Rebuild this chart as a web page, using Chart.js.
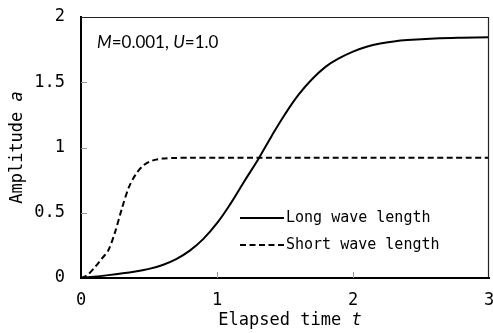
<!DOCTYPE html>
<html>
<head>
<meta charset="utf-8">
<script src="https://cdn.jsdelivr.net/npm/chart.js@4.4.0/dist/chart.umd.min.js"></script>
<style>
  body { margin: 0; background: #fff; }
  #wrap { width: 493px; height: 333px; }
</style>
</head>
<body>
<div id="wrap"><canvas id="amp" width="493" height="333"></canvas></div>
<script>
// growth of amplitude a over elapsed time t
const timeLong = [0, 0.2, 0.4, 0.5, 0.6, 0.7, 0.8, 0.9, 1.0, 1.1, 1.2, 1.3, 1.4, 1.5, 1.6, 1.7, 1.8, 1.9, 2.0, 2.1, 2.2, 2.3, 2.4, 2.6, 2.8, 3.0];
const ampLong = [0, 0.022, 0.05, 0.07, 0.1, 0.145, 0.21, 0.3, 0.42, 0.57, 0.74, 0.905, 1.085, 1.255, 1.405, 1.525, 1.62, 1.685, 1.735, 1.772, 1.797, 1.813, 1.823, 1.835, 1.841, 1.844];

const timeShort = [0, 0.05, 0.1, 0.15, 0.2, 0.25, 0.3, 0.35, 0.4, 0.45, 0.5, 0.55, 0.6, 0.7, 0.8, 1.0, 2.0, 3.0];
const ampShort = [0, 0.025, 0.08, 0.145, 0.21, 0.35, 0.53, 0.69, 0.79, 0.855, 0.89, 0.907, 0.915, 0.92, 0.922, 0.922, 0.922, 0.922];

const seriesNames = ['Long wave length', 'Short wave length'];
const xTicks = [0, 1, 2, 3];
const yTicks = [0, 0.5, 1, 1.5, 2];

const mono = '"DejaVu Sans Mono", "Liberation Mono", monospace';
const dash = [6, 3.5];

const toPoints = (xs, ys) => xs.map((x, i) => ({ x: x, y: ys[i] }));

// mixed upright / italic text pieces
const drawPieces = (ctx, pieces, x, y, size, family) => {
    let cx = x;
    pieces.forEach(p => {
        ctx.font = (p.it ? 'italic ' : '') + size + 'px ' + family;
        ctx.fillText(p.t, cx, y);
        cx += ctx.measureText(p.t).width;
    });
    return cx - x;
};
const piecesWidth = (ctx, pieces, size, family) => {
    let w = 0;
    pieces.forEach(p => {
        ctx.font = (p.it ? 'italic ' : '') + size + 'px ' + family;
        w += ctx.measureText(p.t).width;
    });
    return w;
};

const decor = {
    id: 'decor',
    afterDraw(chart) {
        const ctx = chart.ctx;
        const a = chart.chartArea;
        const xs = chart.scales.x;
        const ys = chart.scales.y;
        ctx.save();

        // top and right frame
        ctx.strokeStyle = '#222';
        ctx.lineWidth = 1.2;
        ctx.beginPath();
        ctx.moveTo(a.left, a.top + 0.5);
        ctx.lineTo(a.right - 0.5, a.top + 0.5);
        ctx.lineTo(a.right - 0.5, a.bottom);
        ctx.stroke();

        // inward tick marks
        ctx.strokeStyle = '#999';
        ctx.lineWidth = 1;
        ctx.beginPath();
        yTicks.slice(1, -1).forEach(v => {
            const py = Math.round(ys.getPixelForValue(v)) + 0.5;
            ctx.moveTo(a.left, py);
            ctx.lineTo(a.left + 6, py);
        });
        xTicks.slice(1, -1).forEach(v => {
            const px = Math.round(xs.getPixelForValue(v)) + 0.5;
            ctx.moveTo(px, a.bottom);
            ctx.lineTo(px, a.bottom - 6);
        });
        ctx.stroke();

        // legend
        ctx.fillStyle = '#000';
        ctx.textBaseline = 'middle';
        ctx.textAlign = 'left';
        chart.data.datasets.forEach((ds, i) => {
            const ly = a.top + 201 + i * 27;
            ctx.strokeStyle = '#000';
            ctx.lineWidth = 2;
            ctx.setLineDash(ds.borderDash || []);
            ctx.beginPath();
            ctx.moveTo(a.left + 159, ly);
            ctx.lineTo(a.left + 203, ly);
            ctx.stroke();
            ctx.setLineDash([]);
            ctx.font = '15px ' + mono;
            ctx.fillText(ds.label, a.left + 205, ly);
        });

        // parameter note
        drawPieces(ctx, [
            { t: 'M', it: true }, { t: '=0.001, ' },
            { t: 'U', it: true }, { t: '=1.0' }
        ], a.left + 16, a.top + 26, 17, 'Lato, "Open Sans", sans-serif');

        // x axis title
        const xt = [{ t: 'Elapsed time ' }, { t: 't', it: true }];
        const xw = piecesWidth(ctx, xt, 17, mono);
        drawPieces(ctx, xt, (a.left + a.right) / 2 + 5 - xw / 2, 321, 17, mono);

        // y axis title
        const yt = [{ t: 'Amplitude ' }, { t: 'a', it: true }];
        const yw = piecesWidth(ctx, yt, 17, mono);
        ctx.translate(18, (a.top + a.bottom) / 2);
        ctx.rotate(-Math.PI / 2);
        drawPieces(ctx, yt, -yw / 2, 0, 17, mono);

        ctx.restore();
    }
};

new Chart(document.getElementById('amp'), {
    type: 'line',
    data: {
        datasets: [{
            label: seriesNames[0],
            data: toPoints(timeLong, ampLong),
            borderColor: '#000',
            borderWidth: 2,
            pointRadius: 0,
            tension: 0.4,
            fill: false
        }, {
            label: seriesNames[1],
            data: toPoints(timeShort, ampShort),
            borderColor: '#000',
            borderWidth: 2,
            borderDash: dash,
            pointRadius: 0,
            tension: 0.3,
            fill: false
        }]
    },
    options: {
        responsive: false,
        animation: false,
        layout: { padding: { top: 17, right: 4, left: 0, bottom: 0 } },
        plugins: {
            legend: { display: false },
            tooltip: { enabled: false }
        },
        scales: {
            x: {
                type: 'linear',
                min: 0,
                max: 3,
                afterBuildTicks: s => { s.ticks = xTicks.map(v => ({ value: v })); },
                afterFit: s => {
                    s.height = 55;
                    s.paddingLeft = 0;
                    s.paddingRight = 0;
                },
                grid: { display: false, drawTicks: false },
                border: { display: true, color: '#000', width: 2 },
                ticks: {
                    color: '#000',
                    padding: 12,
                    font: { family: mono, size: 17 },
                    maxRotation: 0
                }
            },
            y: {
                type: 'linear',
                min: 0,
                max: 2,
                afterBuildTicks: s => { s.ticks = yTicks.map(v => ({ value: v })); },
                afterFit: s => {
                    s.width = 81;
                    s.paddingTop = 0;
                    s.paddingBottom = 0;
                },
                grid: { display: false, drawTicks: false },
                border: { display: true, color: '#000', width: 2 },
                ticks: {
                    color: '#000',
                    padding: 16,
                    font: { family: mono, size: 17 },
                    callback: v => String(v)
                }
            }
        }
    },
    plugins: [decor]
});
</script>
</body>
</html>
